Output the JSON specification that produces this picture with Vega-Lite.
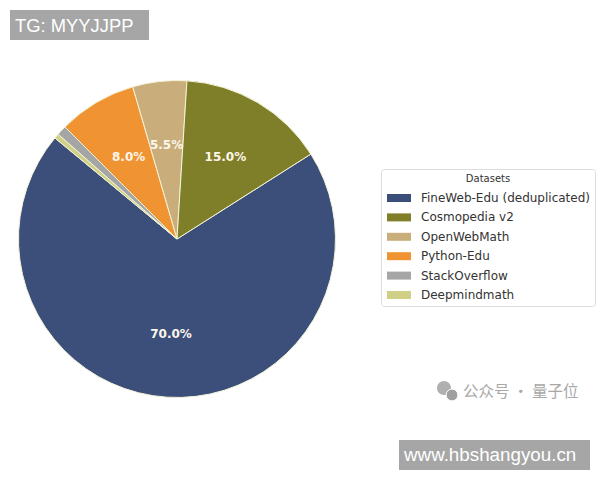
{
  "$schema": "https://vega.github.io/schema/vega-lite/v6.json",
  "width": 354,
  "height": 478,
  "autosize": {"type": "none"},
  "padding": {"left": 0, "top": 0, "right": 246, "bottom": 2},
  "background": "white",
  "view": {"stroke": null},
  "config": {"font": "DejaVu Sans"},
  "data": {"values": [
    {"dataset": "FineWeb-Edu (deduplicated)", "share": 70, "label": "70.0%", "rank": 1},
    {"dataset": "Deepmindmath", "share": 0.5, "label": "", "rank": 2},
    {"dataset": "StackOverflow", "share": 1, "label": "", "rank": 3},
    {"dataset": "Python-Edu", "share": 8, "label": "8.0%", "rank": 4},
    {"dataset": "OpenWebMath", "share": 5.5, "label": "5.5%", "rank": 5},
    {"dataset": "Cosmopedia v2", "share": 15, "label": "15.0%", "rank": 6}
  ]},
  "layer": [
    {
      "mark": {"type": "arc", "outerRadius": 158.5, "stroke": "#f4f4d8", "strokeWidth": 1},
      "encoding": {
        "theta": {"field": "share", "type": "quantitative", "stack": true, "scale": {"domain": [0, 100], "range": [1.0053, 7.2885]}},
        "order": {"field": "rank", "type": "ordinal"},
        "color": {
          "field": "dataset",
          "type": "nominal",
          "scale": {
            "domain": ["FineWeb-Edu (deduplicated)", "Cosmopedia v2", "OpenWebMath", "Python-Edu", "StackOverflow", "Deepmindmath"],
            "range": ["#3b4f7a", "#7f7f2a", "#c9ae7c", "#f09433", "#a5a5a5", "#cfd085"]
          },
          "legend": {
            "title": "Datasets",
            "orient": "none",
            "legendX": 381,
            "legendY": 169,
            "titleFontSize": 10,
            "titleFontWeight": "normal",
            "titleColor": "#333333",
            "titleAnchor": "middle",
            "titlePadding": 6,
            "labelFontSize": 12,
            "labelColor": "#333333",
            "labelLimit": 220,
            "labelOffset": 19,
            "symbolType": "M-0.875,-0.5H2.125V0.5H-0.875Z",
            "symbolSize": 256,
            "symbolStrokeWidth": 0,
            "symbolOpacity": 1,
            "rowPadding": 5.4,
            "padding": 5,
            "fillColor": "white",
            "strokeColor": "#dddddd",
            "cornerRadius": 3,
            "encoding": {"title": {"update": {"dy": {"value": 3}}}}
          }
        }
      }
    },
    {
      "mark": {"type": "text", "radius": 95, "font": "DejaVu Sans", "fontSize": 12, "fontWeight": "bold", "color": "#fdf6ea"},
      "encoding": {
        "theta": {"field": "share", "type": "quantitative", "stack": true, "scale": {"domain": [0, 100], "range": [1.0053, 7.2885]}},
        "order": {"field": "rank", "type": "ordinal"},
        "text": {"field": "label", "type": "nominal"}
      }
    },
    {
      "data": {"values": [{"note": "TG: MYYJJPP"}]},
      "layer": [
        {"mark": {"type": "rect", "x": 10, "x2": 149, "y": 10, "y2": 40, "color": "#a6a6a6"}, "encoding": {}},
        {"mark": {"type": "text", "x": 15, "y": 26, "align": "left", "font": "Liberation Sans", "fontSize": 18.4, "color": "white"}, "encoding": {"text": {"field": "note"}}}
      ]
    },
    {
      "data": {"values": [{"note": "www.hbshangyou.cn"}]},
      "layer": [
        {"mark": {"type": "rect", "x": 399, "x2": 590, "y": 440, "y2": 470, "color": "#a6a6a6"}, "encoding": {}},
        {"mark": {"type": "text", "x": 404, "y": 455, "align": "left", "font": "Liberation Sans", "fontSize": 18.8, "color": "white"}, "encoding": {"text": {"field": "note"}}}
      ]
    },
    {
      "data": {"values": [{"note": "公众号 · 量子位"}]},
      "mark": {"type": "text", "x": 463, "y": 392, "align": "left", "font": "Noto Sans CJK SC", "fontSize": 15.5, "color": "#a8a8a8"},
      "encoding": {"text": {"field": "note"}}
    },
    {
      "data": {"values": [{"note": "icon"}]},
      "mark": {"type": "point", "x": 444, "y": 388, "filled": true, "size": 200, "color": "#b0b0b0", "opacity": 1},
      "encoding": {}
    },
    {
      "data": {"values": [{"note": "icon"}]},
      "mark": {"type": "point", "x": 452, "y": 395, "filled": true, "size": 140, "color": "#a0a0a0", "stroke": "white", "strokeWidth": 1, "opacity": 1},
      "encoding": {}
    }
  ]
}
